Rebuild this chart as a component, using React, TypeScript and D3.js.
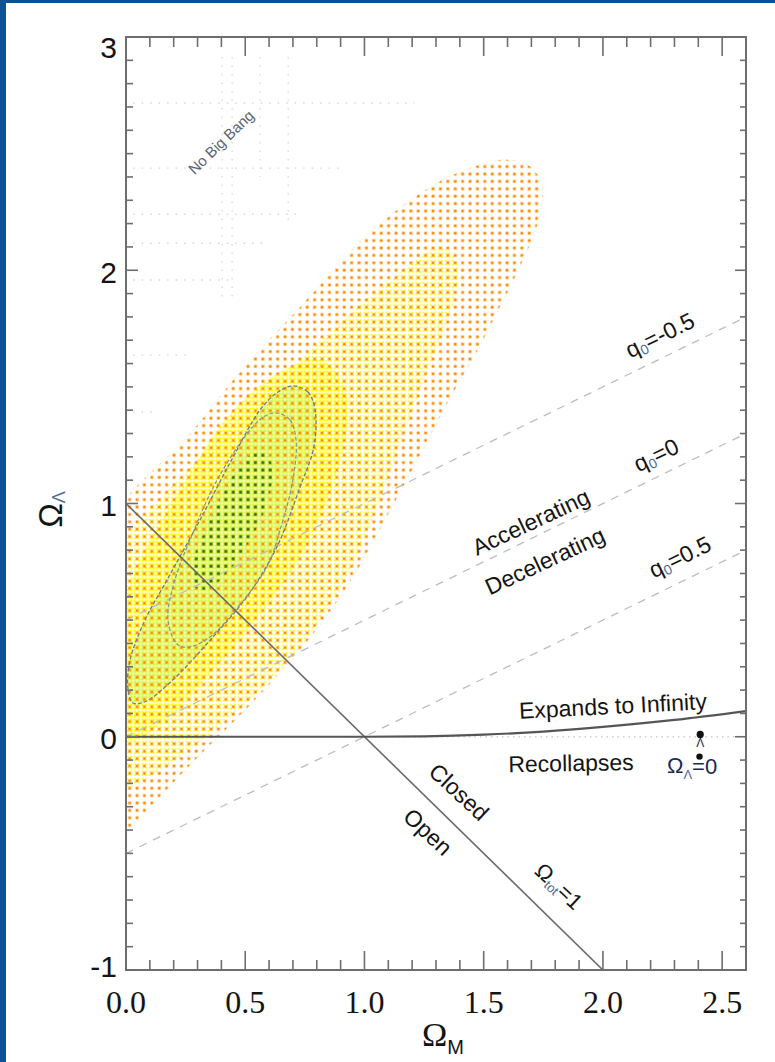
import React from 'react';
import * as d3 from 'd3';

// ---------- data ----------
const X_DOMAIN: [number, number] = [0, 2.6];
const Y_DOMAIN: [number, number] = [-1, 3];
const xMajorTicks = [0, 0.5, 1.0, 1.5, 2.0, 2.5];
const xTickLabels = ['0.0', '0.5', '1.0', '1.5', '2.0', '2.5'];
const yMajorTicks = [-1, 0, 1, 2, 3];
const yTickLabels = ['-1', '0', '1', '2', '3'];

// confidence contours in (Ω_M, Ω_Λ)
const outerContour: [number, number][] = [
  [1.568, 2.473], [1.686, 2.451], [1.745, 2.365], [1.728, 2.207], [1.661, 2.035],
  [1.568, 1.842], [1.464, 1.637], [1.359, 1.452], [1.233, 1.208], [1.086, 0.929],
  [0.918, 0.629], [0.730, 0.372], [0.520, 0.136], [0.289, -0.100], [0.004, -0.400],
  [-0.193, -0.572], [-0.361, -0.486], [-0.403, -0.100], [-0.277, 0.672], [0.004, 1.030],
  [0.256, 1.285], [0.478, 1.564], [0.730, 1.842], [1.011, 2.151], [1.275, 2.357], [1.443, 2.438],
];
const yellowContour: [number, number][] = [
  [1.317, 2.103], [1.380, 2.053], [1.384, 1.907], [1.334, 1.744], [1.262, 1.560],
  [1.170, 1.316], [1.065, 1.015], [0.918, 0.672], [0.688, 0.330], [0.457, 0.106],
  [0.226, -0.087], [0.004, -0.228], [-0.151, -0.293], [-0.277, -0.100], [-0.214, 0.586],
  [0.004, 0.865], [0.226, 1.109], [0.478, 1.367], [0.759, 1.645], [0.981, 1.851], [1.191, 2.023],
];
const denseYellowContour: [number, number][] = [
  [0.814, 1.615], [0.918, 1.487], [0.918, 1.272], [0.835, 0.994], [0.709, 0.737],
  [0.541, 0.501], [0.331, 0.244], [0.143, 0.050], [0.004, -0.023], [-0.075, 0.072],
  [-0.059, 0.415], [0.059, 0.758], [0.226, 1.058], [0.415, 1.358], [0.625, 1.551],
];
const greenContour: [number, number][] = [
  [0.700, 1.504], [0.763, 1.478], [0.793, 1.401], [0.788, 1.243], [0.730, 1.071],
  [0.633, 0.814], [0.507, 0.600], [0.365, 0.428], [0.197, 0.244], [0.080, 0.150],
  [0.029, 0.145], [0.008, 0.209], [0.017, 0.329], [0.080, 0.501], [0.172, 0.672],
  [0.310, 0.929], [0.449, 1.199], [0.562, 1.401], [0.637, 1.478],
];
const innerContour: [number, number][] = [
  [0.633, 1.388], [0.688, 1.358], [0.713, 1.273], [0.700, 1.101], [0.646, 0.887],
  [0.591, 0.728], [0.449, 0.531], [0.352, 0.428], [0.268, 0.385], [0.218, 0.394],
  [0.176, 0.501], [0.205, 0.672], [0.268, 0.843], [0.382, 1.101], [0.520, 1.315], [0.583, 1.375],
];
const coreContour: [number, number][] = [
  [0.570, 1.229], [0.612, 1.165], [0.595, 1.015], [0.520, 0.843], [0.415, 0.693],
  [0.331, 0.629], [0.281, 0.651], [0.289, 0.779], [0.352, 0.929], [0.436, 1.101], [0.520, 1.208],
];

// Ω_tot = 1 line
const flatM = [0, 2];
const flatL = [1, -1];
// deceleration-parameter lines (endpoints)
const q0Names = ['q0=-0.5', 'q0=0', 'q0=0.5'];
const q0StartL = [0.5, 0.0, -0.5];
const q0EndL = [1.8, 1.3, 0.8];
// expands / recollapses boundary
const expandM = [0, 1.0, 1.25, 1.5, 1.75, 2.0, 2.3, 2.6];
const expandL = [0, 0, 0.002, 0.009, 0.022, 0.042, 0.072, 0.11];

// faint dotted artefact grid (upper-left)
const gridRowL = [2.717, 2.438, 2.24, 2.116, 1.958, 1.636, 1.392];
const gridRowEndM = [1.21, 0.92, 0.73, 0.6, 0.45, 0.25, 0.12];
const gridColM = [0.403, 0.445, 0.563, 0.68];
const gridColEndL = [1.87, 1.87, 2.4, 2.2];

// ---------- layout ----------
const W = 775, H = 1062;
const LEFT = 126, RIGHT = 746, TOP = 37, BOTTOM = 970;
const SANS = "'Liberation Sans', Arial, Helvetica, sans-serif";
const SERIF = "'Liberation Serif', 'Times New Roman', serif";

export default function App() {
  const x = d3.scaleLinear().domain(X_DOMAIN).range([LEFT, RIGHT]);
  const y = d3.scaleLinear().domain(Y_DOMAIN).range([BOTTOM, TOP]);

  const closed = d3
    .line<[number, number]>()
    .x((d) => x(d[0]))
    .y((d) => y(d[1]))
    .curve(d3.curveCatmullRomClosed.alpha(0.5));
  const open = d3
    .line<[number, number]>()
    .x((d) => x(d[0]))
    .y((d) => y(d[1]))
    .curve(d3.curveMonotoneX);

  const xMinor = d3.range(0, 2.6001, 0.1).map((v) => +v.toFixed(2));
  const yMinor = d3.range(-1, 3.0001, 0.1).map((v) => +v.toFixed(2));
  const isMajorX = (v: number) => Math.abs(v * 2 - Math.round(v * 2)) < 1e-6;
  const isMajorY = (v: number) => Math.abs(v - Math.round(v)) < 1e-6;

  const axisColor = '#6e6e6e';
  const txt = '#141414';
  const subCol = '#4f6b98';

  const ann = (
    M: number,
    L: number,
    rot: number,
    children: React.ReactNode,
    size = 23,
    fill = txt,
    key?: string
  ) => (
    <text
      key={key}
      transform={`translate(${x(M)},${y(L)}) rotate(${rot})`}
      textAnchor="middle"
      dominantBaseline="central"
      fontFamily={SANS}
      fontSize={size}
      fill={fill}
    >
      {children}
    </text>
  );

  const q0Pos: [number, number][] = [
    [2.239, 1.722],
    [2.223, 1.208],
    [2.323, 0.771],
  ];

  return (
    <svg
      width={W}
      height={H}
      style={{ position: 'absolute', left: 0, top: 0, background: '#fff' }}
    >
      <defs>
        <clipPath id="plotClip">
          <rect x={LEFT} y={TOP} width={RIGHT - LEFT} height={BOTTOM - TOP} />
        </clipPath>
        <pattern id="orangeDots" patternUnits="userSpaceOnUse" width={7.4} height={7.4}>
          <rect x={2.4} y={2.4} width={2.8} height={2.8} fill="#ff8a00" />
        </pattern>
        <pattern id="greenDots" patternUnits="userSpaceOnUse" width={7.4} height={7.4}>
          <rect x={2.4} y={2.4} width={2.8} height={2.8} fill="#1f7d00" />
        </pattern>
        <pattern id="yellowLight" patternUnits="userSpaceOnUse" width={3.7} height={3.7}>
          <rect x={0.8} y={0.8} width={1.9} height={1.9} fill="#ffff30" />
        </pattern>
        <pattern id="yellowDense" patternUnits="userSpaceOnUse" width={3.7} height={3.7}>
          <rect x={0.5} y={0.5} width={2.6} height={2.6} fill="#ffff10" />
        </pattern>
        <pattern id="greenLight" patternUnits="userSpaceOnUse" width={3.7} height={3.7}>
          <rect x={0.4} y={0.4} width={2.9} height={2.9} fill="#d4f660" />
        </pattern>
      </defs>

      <rect x={0} y={0} width={W} height={H} fill="#ffffff" />
      <rect x={0} y={0} width={6} height={H} fill="#0c5395" />
      <rect x={0} y={0} width={W} height={3} fill="#0c5395" />

      <g clipPath="url(#plotClip)">
        {/* faint dotted artefacts */}
        {gridRowL.map((L, i) => (
          <line
            key={'gr' + i}
            x1={x(0.03)}
            x2={x(gridRowEndM[i])}
            y1={y(L)}
            y2={y(L)}
            stroke="#d6d6d6"
            strokeWidth={1.4}
            strokeDasharray="1.5 7"
          />
        ))}
        {gridColM.map((M, i) => (
          <line
            key={'gc' + i}
            x1={x(M)}
            x2={x(M)}
            y1={y(2.914)}
            y2={y(gridColEndL[i])}
            stroke="#dcdcdc"
            strokeWidth={1.4}
            strokeDasharray="1.5 7"
          />
        ))}

        {/* contours */}
        <path d={closed(yellowContour) || ''} fill="url(#yellowLight)" />
        <path d={closed(denseYellowContour) || ''} fill="url(#yellowDense)" />
        <path d={closed(greenContour) || ''} fill="url(#greenLight)" />
        <path d={closed(outerContour) || ''} fill="url(#orangeDots)" />
        <path d={closed(coreContour) || ''} fill="url(#greenDots)" />
        <path
          d={closed(outerContour) || ''}
          fill="none"
          stroke="#e8e8e8"
          strokeWidth={1}
          strokeDasharray="1 3"
        />

        {/* q0 lines */}
        {q0StartL.map((L0, i) => (
          <line
            key={'q' + i}
            x1={x(X_DOMAIN[0])}
            y1={y(L0)}
            x2={x(X_DOMAIN[1])}
            y2={y(q0EndL[i])}
            stroke="#bdbdbd"
            strokeWidth={1.3}
            strokeDasharray="8 7"
          />
        ))}

        {/* Ω_Λ = 0 dotted reference */}
        <line
          x1={x(1.0)}
          x2={x(2.6)}
          y1={y(0)}
          y2={y(0)}
          stroke="#cfcfcf"
          strokeWidth={1.4}
          strokeDasharray="1.5 4"
        />

        {/* contour outlines */}
        <path
          d={closed(greenContour) || ''}
          fill="none"
          stroke="#767b82"
          strokeWidth={1.3}
          strokeDasharray="4 2"
        />
        <path
          d={closed(innerContour) || ''}
          fill="none"
          stroke="#8a9098"
          strokeWidth={1.2}
          strokeDasharray="4 2"
        />

        {/* Ω_tot = 1 */}
        <line
          x1={x(flatM[0])}
          y1={y(flatL[0])}
          x2={x(flatM[1])}
          y2={y(flatL[1])}
          stroke="#6a6a6a"
          strokeWidth={1.6}
        />

        {/* expands / recollapses */}
        <path
          d={open(expandM.map((m, i) => [m, expandL[i]] as [number, number])) || ''}
          fill="none"
          stroke="#555"
          strokeWidth={2.2}
        />
      </g>

      {/* frame */}
      <rect
        x={LEFT}
        y={TOP}
        width={RIGHT - LEFT}
        height={BOTTOM - TOP}
        fill="none"
        stroke={axisColor}
        strokeWidth={2}
      />

      {/* x ticks */}
      {xMinor.map((v) => {
        const len = isMajorX(v) ? 19 : 10;
        return (
          <g key={'xt' + v} stroke={axisColor} strokeWidth={1.6}>
            <line x1={x(v)} x2={x(v)} y1={BOTTOM} y2={BOTTOM - len} />
            <line x1={x(v)} x2={x(v)} y1={TOP} y2={TOP + len} />
          </g>
        );
      })}
      {/* y ticks */}
      {yMinor.map((v) => {
        const maj = isMajorY(v);
        return (
          <g key={'yt' + v} stroke={axisColor} strokeWidth={1.6}>
            <line x1={LEFT} x2={LEFT + (maj ? 12 : 7)} y1={y(v)} y2={y(v)} />
            <line x1={RIGHT} x2={RIGHT - (maj ? 11 : 6)} y1={y(v)} y2={y(v)} />
          </g>
        );
      })}

      {/* tick labels */}
      {xMajorTicks.map((v, i) => (
        <text
          key={'xl' + i}
          x={x(v)}
          y={1013}
          textAnchor="middle"
          fontFamily={SERIF}
          fontSize={32}
          fill={txt}
        >
          {xTickLabels[i]}
        </text>
      ))}
      {yMajorTicks.map((v, i) => (
        <text
          key={'yl' + i}
          x={117}
          y={Math.min(Math.max(y(v) + 2, 47), 966)}
          textAnchor="end"
          dominantBaseline="central"
          fontFamily={SANS}
          fontSize={30}
          fill={txt}
        >
          {yTickLabels[i]}
        </text>
      ))}

      {/* axis titles */}
      <text
        transform={`translate(50,${y(1.0) + 6}) rotate(-90)`}
        textAnchor="middle"
        dominantBaseline="central"
        fontFamily={SANS}
        fontSize={33}
        fill={txt}
      >
        Ω
        <tspan fontSize={18} dy={9} fill={subCol}>
          Λ
        </tspan>
      </text>
      <text
        x={(LEFT + RIGHT) / 2 + 7}
        y={1046}
        textAnchor="middle"
        fontFamily={SERIF}
        fontSize={34}
        fill={txt}
      >
        Ω
        <tspan fontSize={20} dy={8} fontFamily={SANS}>
          M
        </tspan>
      </text>

      {/* annotations */}
      {q0Names.map((nm, i) =>
        ann(
          q0Pos[i][0],
          q0Pos[i][1],
          -26,
          <>
            q
            <tspan fontSize={14} dy={6} fill={subCol}>
              0
            </tspan>
            <tspan dy={-6}>{nm.slice(2)}</tspan>
          </>,
          23,
          txt,
          'qa' + i
        )
      )}
      {ann(1.698, 0.921, -25, 'Accelerating')}
      {ann(1.757, 0.754, -25, 'Decelerating')}
      {ann(2.042, 0.132, -3, 'Expands to Infinity')}
      {ann(1.866, -0.113, -1, 'Recollapses')}
      {ann(
        2.374,
        -0.125,
        0,
        <>
          Ω
          <tspan fontSize={13} dy={8} fill={subCol}>
            Λ
          </tspan>
          <tspan dy={-8}>=0</tspan>
        </>,
        22,
        '#1a2a50'
      )}
      <circle cx={x(2.408)} cy={y(0.01)} r={3.6} fill="#111" />
      <text
        x={x(2.408)}
        y={y(-0.045)}
        textAnchor="middle"
        fontFamily={SANS}
        fontSize={12}
        fill="#1a2a50"
      >
        Λ
      </text>
      <circle cx={x(2.405)} cy={y(-0.085)} r={3.2} fill="#111" />
      {ann(1.396, -0.237, 43, 'Closed')}
      {ann(1.266, -0.408, 43, 'Open')}
      {ann(
        1.816,
        -0.64,
        43,
        <>
          Ω
          <tspan fontSize={13} dy={6} fill={subCol}>
            tot
          </tspan>
          <tspan dy={-6}>=1</tspan>
        </>,
        22
      )}
      {ann(0.398, 2.55, -44, 'No Big Bang', 15, '#5a6474')}
    </svg>
  );
}
